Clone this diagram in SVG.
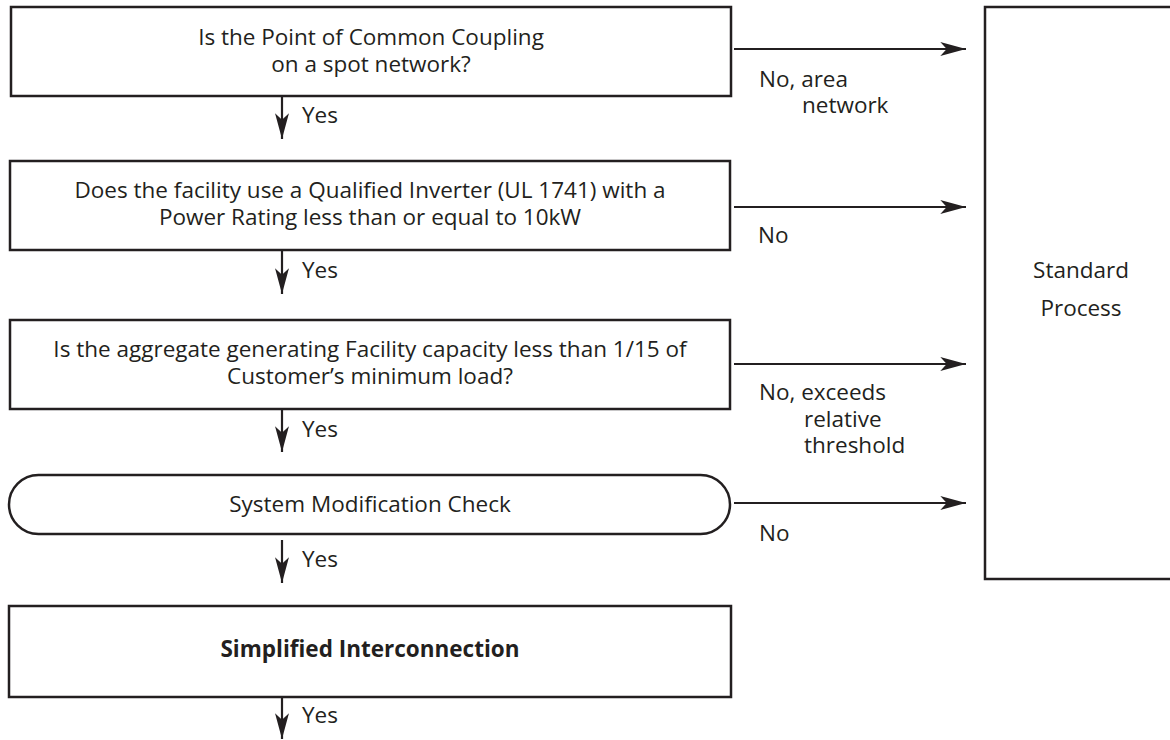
<svg xmlns="http://www.w3.org/2000/svg" width="1170" height="740" viewBox="0 0 1170 740">
<style>
.box{fill:#fff;stroke:#231f20;stroke-width:2.5}
.t{font-family:"Open Sans","Liberation Sans",sans-serif;font-size:22.5px;fill:#231f20}
.c{text-anchor:middle}
.b{font-weight:bold}
.ln{stroke:#231f20;stroke-width:2.2;fill:none}
</style>
<defs>
<marker id="ah" markerUnits="userSpaceOnUse" markerWidth="30" markerHeight="20" viewBox="-26 -8 28 16" refX="0" refY="0" orient="auto">
<path d="M0,0 L-24,-6.5 L-18,0 L-24,6.5 Z" fill="#231f20"/>
</marker>
</defs>
<rect width="1170" height="740" fill="#fff"/>
<g id="connectors">
<line class="ln" x1="734" y1="49" x2="966" y2="49" marker-end="url(#ah)"/>
<line class="ln" x1="734" y1="207" x2="966" y2="207" marker-end="url(#ah)"/>
<line class="ln" x1="734" y1="364" x2="966" y2="364" marker-end="url(#ah)"/>
<line class="ln" x1="734" y1="503" x2="966" y2="503" marker-end="url(#ah)"/>
<line class="ln" x1="282" y1="97" x2="282" y2="139" marker-end="url(#ah)"/>
<line class="ln" x1="282" y1="251" x2="282" y2="294" marker-end="url(#ah)"/>
<line class="ln" x1="282" y1="410" x2="282" y2="452" marker-end="url(#ah)"/>
<line class="ln" x1="282" y1="540" x2="282" y2="583" marker-end="url(#ah)"/>
<line class="ln" x1="282" y1="698" x2="282" y2="739" marker-end="url(#ah)"/>
<text class="t" x="759" y="87">No, area</text>
<text class="t" x="802" y="113">network</text>
<text class="t" x="758" y="243">No</text>
<text class="t" x="759" y="400">No, exceeds</text>
<text class="t" x="804" y="427">relative</text>
<text class="t" x="804" y="453">threshold</text>
<text class="t" x="759" y="541">No</text>
<text class="t" x="302" y="123">Yes</text>
<text class="t" x="302" y="278">Yes</text>
<text class="t" x="302" y="437">Yes</text>
<text class="t" x="302" y="567">Yes</text>
<text class="t" x="302" y="723">Yes</text>
</g>
<g id="q1">
<rect class="box" x="11" y="7" width="720" height="89"/>
<text class="t c" x="371" y="45">Is the Point of Common Coupling</text>
<text class="t c" x="371" y="72">on a spot network?</text>
</g>
<g id="q2">
<rect class="box" x="10" y="161" width="720" height="89"/>
<text class="t c" x="370" y="198">Does the facility use a Qualified Inverter (UL 1741) with a</text>
<text class="t c" x="370" y="225">Power Rating less than or equal to 10kW</text>
</g>
<g id="q3">
<rect class="box" x="10" y="320" width="720" height="89"/>
<text class="t c" x="370" y="357">Is the aggregate generating Facility capacity less than 1/15 of</text>
<text class="t c" x="370" y="384">Customer’s minimum load?</text>
</g>
<g id="check">
<rect class="box" x="9" y="475" width="721" height="59" rx="29.5" ry="29.5"/>
<text class="t c" x="370" y="512">System Modification Check</text>
</g>
<g id="simplified">
<rect class="box" x="9" y="606" width="722" height="91"/>
<text class="t c b" x="370" y="657">Simplified Interconnection</text>
</g>
<g id="standard">
<rect class="box" x="985" y="7" width="200" height="572"/>
<text class="t c" x="1081" y="278">Standard</text>
<text class="t c" x="1081" y="316">Process</text>
</g>
</svg>
